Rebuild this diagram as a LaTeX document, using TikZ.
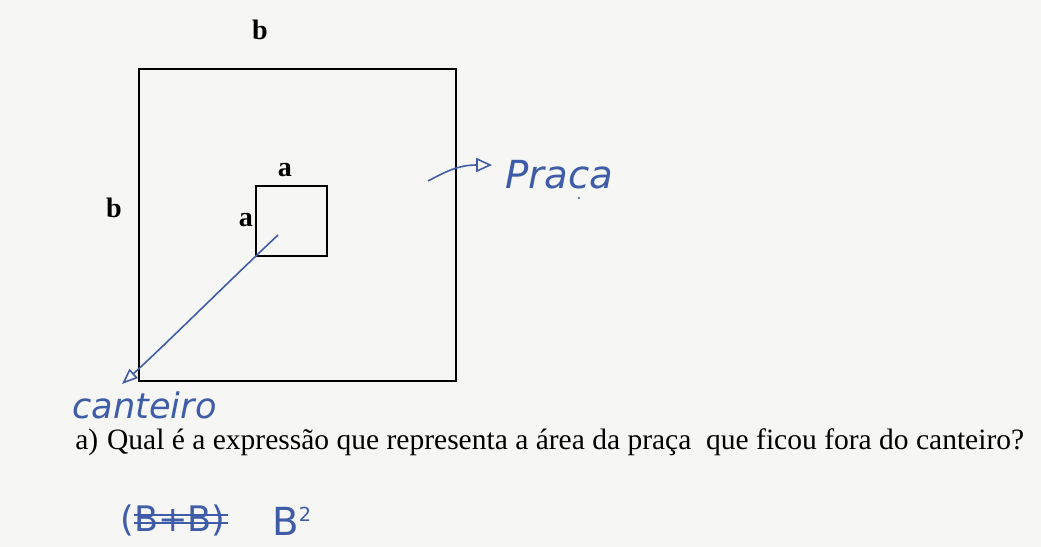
\documentclass[tikz,border=0pt]{standalone}
\usepackage{fontspec}
\setmainfont{Liberation Serif}
\newfontfamily\hand{DejaVu Sans}
\usetikzlibrary{arrows.meta}
\definecolor{paper}{RGB}{246,246,244}
\definecolor{ink}{RGB}{62,92,168}
\begin{document}
\begin{tikzpicture}[x=0.02cm,y=-0.02cm,
  sq/.style={draw=black,line width=1.3pt},
  lbl/.style={font=\fontsize{16}{16}\selectfont\bfseries,inner sep=0pt},
  pen/.style={draw=ink,line width=0.9pt},
  handtxt/.style={text=ink,font=\hand\itshape,inner sep=0pt,anchor=west}]
\fill[paper] (0,0) rectangle (1041,547);
\useasboundingbox (0,0) rectangle (1041,547);
% squares
\node[sq,minimum width=6.34cm,minimum height=6.24cm,inner sep=0pt,anchor=north west] (big) at (138,68) {};
\node[sq,minimum width=1.42cm,minimum height=1.40cm,inner sep=0pt,anchor=north west] (small) at (255,185) {};
% labels
\node[lbl] (bt) at (260,30) {b};
\node[lbl] (bl) at (114,208) {b};
\node[lbl] (at) at (285,170) {a};
\node[lbl] (al) at (246,220) {a};
% canteiro annotation
\coordinate (c1) at (278,235);
\coordinate (c2) at (122,384);
\draw[pen,-{Triangle[open,length=9pt,width=7pt]}] (c1) .. controls (225,285) and (165,345) .. (c2);
\node[handtxt,font=\hand\itshape\fontsize{20}{20}\selectfont] (cant) at (72,405) {canteiro};
% praca annotation
\coordinate (p1) at (428,181);
\coordinate (p2) at (492,165);
\draw[pen,-{Triangle[open,length=9pt,width=8pt]}] (p1) .. controls (445,172) and (458,165) .. (p2);
\node[handtxt,font=\hand\itshape\fontsize{22}{22}\selectfont] (praca) at (505,175) {Praca};
\fill[ink] (579,198) circle (1.1);
% question
\node[inner sep=0pt,anchor=west,font=\fontsize{16.8}{16.8}\selectfont] (q) at (75,442) {a)\hspace{0.3em}Qual é a expressão que representa a área da praça \ que ficou fora do canteiro?};
% answer
\node[handtxt,font=\hand\fontsize{20}{20}\selectfont] (ans1) at (120,520) {(B+B)};
\draw[pen] (ans1.west) ++(14,-5) -- ++(94,0);
\draw[pen] (ans1.west) ++(14,3) -- ++(94,0);
\node[handtxt,font=\hand\fontsize{22}{22}\selectfont] (ans2) at (272,521) {B\textsuperscript{\fontsize{11}{11}\selectfont 2}};
\end{tikzpicture}
\end{document}
